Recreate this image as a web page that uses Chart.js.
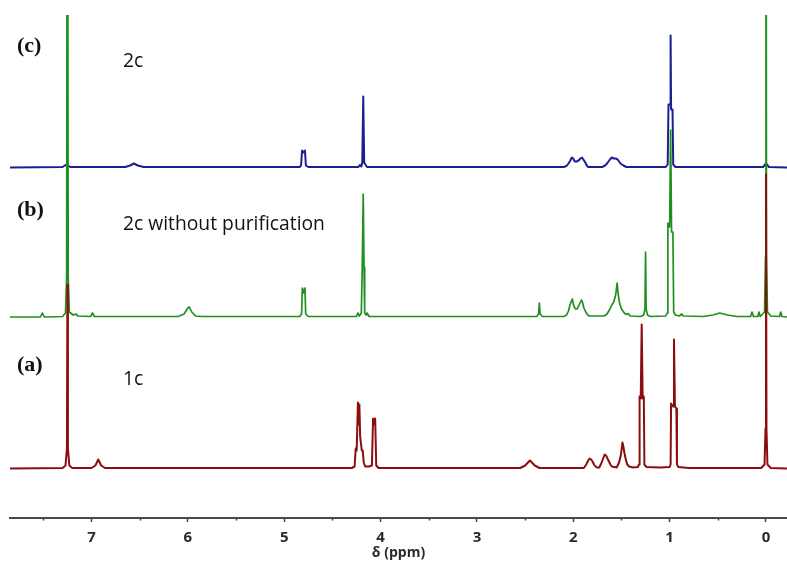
<!DOCTYPE html>
<html>
<head>
<meta charset="utf-8">
<script src="https://cdn.jsdelivr.net/npm/chart.js@4.4.1/dist/chart.umd.min.js"></script>
<style>
  html, body { margin: 0; padding: 0; background: #ffffff; }
  #wrap { width: 787px; height: 564px; }
</style>
</head>
<body>
<div id="wrap"><canvas id="c" width="787" height="564"></canvas></div>
<script>
// ---- Tick labels / axis ----
const xTickValues = [7, 6, 5, 4, 3, 2, 1, 0];
const xMinorTicks = [7.5, 6.5, 5.5, 4.5, 3.5, 2.5, 1.5, 0.5];
const xAxisTitle = 'δ (ppm)';
const panelLetters = ['(c)', '(b)', '(a)'];
const panelNames = ['2c', '2c without purification', '1c'];

// ---- Spectrum (a) 1c : chemical shift (ppm) and intensity above its baseline ----
const redPpm = [7.846, 7.30, 7.27, 7.255, 7.25, 7.245, 7.23, 7.20,
  7.00, 6.96, 6.93, 6.90, 6.86,
  4.30, 4.27, 4.258, 4.248, 4.235, 4.228, 4.22, 4.212, 4.205, 4.195, 4.185, 4.175, 4.16, 4.12,
  4.09, 4.078, 4.066, 4.056, 4.045, 4.02,
  2.55, 2.50, 2.45, 2.40, 2.35,
  1.89, 1.865, 1.845, 1.83, 1.815, 1.80, 1.785, 1.77, 1.755,
  1.73, 1.71, 1.69, 1.675, 1.66, 1.645, 1.63, 1.615, 1.60,
  1.55, 1.525, 1.505, 1.49, 1.48, 1.47, 1.455, 1.44, 1.42, 1.38,
  1.33, 1.318, 1.312, 1.30, 1.29, 1.28, 1.268, 1.262, 1.24,
  1.10, 1.00, 0.99, 0.985, 0.965, 0.955, 0.945, 0.93, 0.924, 0.91, 0.80,
  0.05, 0.015, 0.005, 0.0, -0.005, -0.015, -0.05, -0.218];
const redInt = [0, 0.5, 3, 20, 184, 20, 3, 0.5,
  0.5, 3, 9, 3, 0.5,
  0.5, 2, 20, 18, 66, 44, 64, 32, 32, 18, 18, 6, 2, 2,
  3, 50, 44, 50, 3, 0.5,
  0.5, 3, 8, 3, 0.5,
  0.5, 4, 8, 10, 9, 7, 4, 2, 1,
  1, 5, 10, 14, 13, 10, 7, 4, 2,
  1, 6, 14, 26, 22, 16, 9, 4, 2, 1,
  1.5, 4, 72, 70, 144, 70, 72, 4, 1.5,
  1, 1.5, 4, 65, 62, 129, 62, 60, 4, 1.5, 0.5,
  0.5, 4, 40, 294, 40, 4, 0.5, 0];

// ---- Spectrum (b) 2c without purification ----
const greenPpm = [7.846, 7.53, 7.51, 7.49, 7.30, 7.27, 7.258, 7.25, 7.242, 7.23, 7.19, 7.165, 7.14, 7.01, 6.99, 6.97,
  6.10, 6.04, 6.00, 5.985, 5.96, 5.92, 5.85,
  4.84, 4.82, 4.812, 4.80, 4.785, 4.777, 4.75,
  4.25, 4.235, 4.22, 4.20, 4.19, 4.18, 4.172, 4.165, 4.15, 4.14, 4.12,
  2.38, 2.36, 2.352, 2.344, 2.32,
  2.10, 2.07, 2.05, 2.035, 2.02, 2.01, 2.00, 1.99, 1.975, 1.96, 1.945, 1.93, 1.915, 1.905, 1.89, 1.87, 1.85, 1.83,
  1.68, 1.65, 1.62, 1.60, 1.58, 1.56, 1.545, 1.535, 1.52, 1.50, 1.47, 1.45, 1.43, 1.41, 1.30,
  1.27, 1.256, 1.25, 1.244, 1.23, 1.20,
  1.04, 1.025, 1.018, 1.00, 0.99, 0.98, 0.966, 0.958, 0.94, 0.90, 0.875, 0.86,
  0.65, 0.55, 0.48, 0.40, 0.30,
  0.16, 0.145, 0.13, 0.085, 0.073, 0.06,
  0.015, 0.005, 0.0, -0.005, -0.015, -0.05, -0.14, -0.153, -0.165, -0.218];
const greenInt = [0, 0, 4, 0, 0.5, 4, 40, 700, 40, 5, 2, 3, 1, 0.5, 4, 0.5,
  0.5, 3, 9, 10, 5, 1, 0.5,
  0.5, 3, 29, 24, 29, 3, 0.5,
  0.5, 4, 1, 4, 50, 123, 50, 4, 2, 4, 0.5,
  0.5, 3, 14, 3, 0.5,
  0.5, 2, 6, 12, 16, 18, 13, 10, 8, 8, 11, 14, 17, 15, 9, 5, 2, 1,
  1, 3, 8, 12, 15, 22, 34, 24, 14, 8, 4, 2.5, 3.5, 1, 0.5,
  2, 8, 65, 8, 2, 0.5,
  1, 4, 94, 90, 187, 85, 85, 5, 2, 1, 3, 1,
  0.5, 2, 4, 2, 0.5,
  0.5, 5, 0.5, 0.5, 5, 0.5,
  5, 60, 700, 60, 5, 1, 0.5, 5, 0.5, 0];

// ---- Spectrum (c) 2c ----
const bluePpm = [7.846, 7.30, 7.26, 7.22,
  6.65, 6.60, 6.56, 6.52, 6.46,
  4.84, 4.825, 4.815, 4.80, 4.785, 4.775, 4.75,
  4.23, 4.215, 4.20, 4.19, 4.18, 4.17, 4.155, 4.14,
  2.10, 2.07, 2.05, 2.03, 2.015, 2.00, 1.985, 1.965, 1.945, 1.925, 1.91, 1.895, 1.875, 1.86, 1.845,
  1.70, 1.67, 1.65, 1.62, 1.60, 1.58, 1.56, 1.54, 1.51, 1.48, 1.45,
  1.04, 1.02, 1.012, 0.995, 0.99, 0.985, 0.97, 0.963, 0.94,
  0.03, 0.0, -0.03, -0.218];
const blueInt = [0, 0.5, 3, 0.5,
  0.5, 2, 4, 2, 0.5,
  0.5, 2, 17, 15, 17, 2, 0.5,
  0.5, 2.5, 1, 5, 71, 5, 2.5, 0.5,
  0.5, 1.5, 4, 7, 10, 9, 6, 6, 7, 9, 10, 8, 5, 2, 0.5,
  0.5, 2, 4, 8, 10, 9, 9, 8, 4, 2, 0.5,
  0.5, 3, 63, 63, 132, 58, 58, 3, 0.5,
  0.5, 4, 0.5, 0];

// vertical stacking offsets of the three traces
const OFF_A = 49.5, OFF_B = 201, OFF_C = 350.5;

function toPoints(ppm, inten, off) {
  return ppm.map((p, i) => ({ x: p, y: off + inten[i] }));
}

const labelPlugin = {
  id: 'panelLabels',
  afterDraw(chart) {
    const ctx = chart.ctx;
    ctx.save();
    ctx.fillStyle = '#111111';
    ctx.textBaseline = 'middle';
    ctx.textAlign = 'left';
    const letterY = [46, 210, 365];
    const nameY = [62, 225, 380];
    ctx.font = 'bold 22px "Liberation Serif", "Times New Roman", serif';
    panelLetters.forEach((t, i) => ctx.fillText(t, 17, letterY[i]));
    ctx.font = '19.3px "Open Sans", sans-serif';
    panelNames.forEach((t, i) => ctx.fillText(t, 123, nameY[i]));
    // minor ticks (half ppm) on the x axis
    const xs = chart.scales.x;
    ctx.strokeStyle = '#444444';
    ctx.lineWidth = 1.5;
    xMinorTicks.forEach(v => {
      const px = Math.round(xs.getPixelForValue(v)) + 0.5;
      ctx.beginPath();
      ctx.moveTo(px, xs.top);
      ctx.lineTo(px, xs.top + 2.5);
      ctx.stroke();
    });
    ctx.restore();
  }
};

new Chart(document.getElementById('c'), {
  type: 'scatter',
  data: {
    datasets: [
      { label: '1c', data: toPoints(redPpm, redInt, OFF_A), borderColor: '#8b0d0d', borderWidth: 2 },
      { label: '2c without purification', data: toPoints(greenPpm, greenInt, OFF_B), borderColor: '#1f8f1f', borderWidth: 1.7 },
      { label: '2c', data: toPoints(bluePpm, blueInt, OFF_C), borderColor: '#1c1f8e', borderWidth: 2 }
    ]
  },
  options: {
    responsive: false,
    animation: false,
    devicePixelRatio: 1,
    showLine: true,
    elements: { point: { radius: 0, hoverRadius: 0 }, line: { tension: 0, borderJoinStyle: 'round' } },
    layout: { padding: { top: 15, left: 10, right: 0, bottom: 0 } },
    plugins: { legend: { display: false }, tooltip: { enabled: false } },
    events: [],
    scales: {
      y: { display: false, min: 0, max: 503 },
      x: {
        type: 'linear',
        reverse: true,
        min: -0.218,
        max: 7.846,
        afterFit(scale) { scale.height = 46; },
        afterBuildTicks(scale) { scale.ticks = xTickValues.map(v => ({ value: v })); },
        ticks: {
          autoSkip: false,
          maxRotation: 0,
          padding: 7,
          color: '#2a2a2a',
          font: { family: '"Open Sans", sans-serif', size: 15, weight: 'bold' },
          callback: v => String(v)
        },
        grid: {
          display: true,
          drawOnChartArea: false,
          drawTicks: true,
          tickLength: 4,
          tickColor: '#444444',
          tickWidth: 1.5
        },
        border: { display: true, color: '#4a4a4a', width: 2 },
        title: {
          display: true,
          text: xAxisTitle,
          color: '#2a2a2a',
          font: { family: '"Open Sans", sans-serif', size: 14, weight: 'bold' },
          padding: { top: 0, bottom: 3 }
        }
      }
    }
  },
  plugins: [labelPlugin]
});
</script>
</body>
</html>
